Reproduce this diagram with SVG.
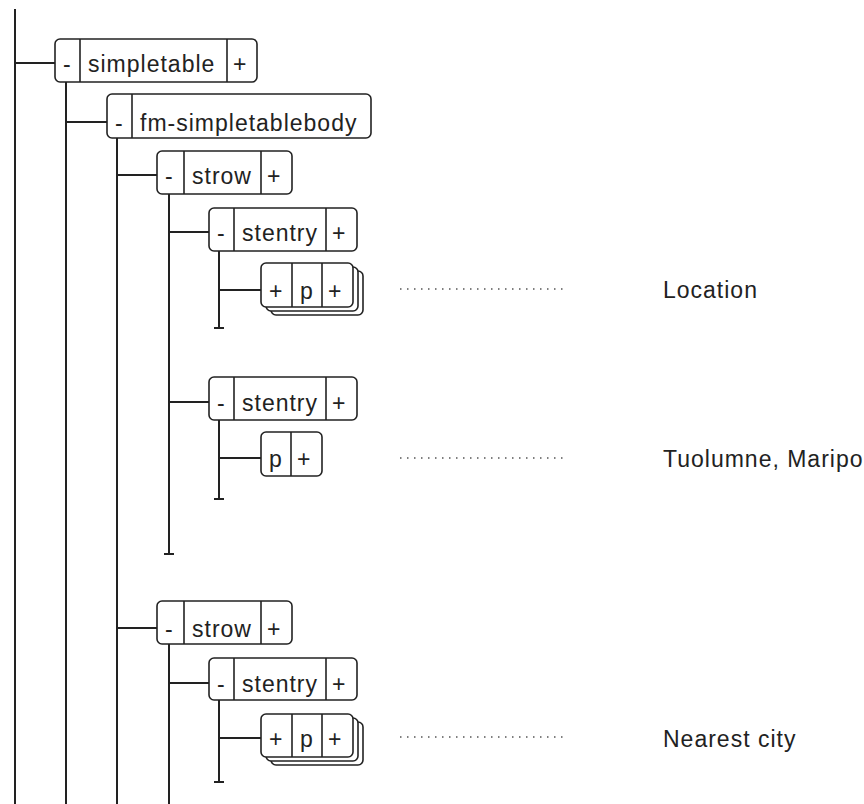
<svg xmlns="http://www.w3.org/2000/svg" width="864" height="804" viewBox="0 0 864 804">
<style>
.bx{fill:#fff;stroke:#222;stroke-width:1.6}
.dv{stroke:#222;stroke-width:1.6}
.ln{stroke:#222;stroke-width:2;fill:none}
.dt{stroke:#555;stroke-width:1.5;stroke-dasharray:1.5 5.5;fill:none}
text{font-family:"Liberation Sans",Arial,sans-serif;font-size:23px;letter-spacing:1px;fill:#222}
</style>
<rect width="864" height="804" fill="#fff"/>
<g id="connectors">
<path class="ln" d="M15 9V804M15 63H55"/>
<path class="ln" d="M66 82V804M66 122H107"/>
<path class="ln" d="M117 138V804M117 175H157M117 628H157"/>
<path class="ln" d="M169 194V554M164 554H174M169 232H209M169 402H209"/>
<path class="ln" d="M169 644V804M169 683H209"/>
<path class="ln" d="M219 251V328M214 328H224M219 290H261"/>
<path class="ln" d="M219 420V499M214 499H224M219 458H261"/>
<path class="ln" d="M219 700V782M214 782H224M219 738H261"/>
<path class="dt" d="M400 289H564M400 458H564M400 737H564"/>
</g>
<g id="simpletable">
<rect class="bx" x="55" y="39" width="202" height="43" rx="5"/>
<path class="dv" d="M80 39V82M227 39V82"/>
<text x="63" y="72">-</text><text x="88" y="72">simpletable</text><text x="233" y="72">+</text>
</g>
<g id="fm-simpletablebody">
<rect class="bx" x="107" y="94" width="264" height="44" rx="5"/>
<path class="dv" d="M132 94V138"/>
<text x="115" y="131">-</text><text x="140" y="131">fm-simpletablebody</text>
</g>
<g id="strow1">
<rect class="bx" x="157" y="151" width="135" height="43" rx="5"/>
<path class="dv" d="M184 151V194M261 151V194"/>
<text x="165" y="184">-</text><text x="192" y="184">strow</text><text x="267" y="184">+</text>
</g>
<g id="stentry1">
<rect class="bx" x="209" y="208" width="148" height="43" rx="5"/>
<path class="dv" d="M234 208V251M326 208V251"/>
<text x="217" y="241">-</text><text x="242" y="241">stentry</text><text x="332" y="241">+</text>
</g>
<g id="p1">
<rect class="bx" x="271" y="271" width="92" height="44" rx="5"/>
<rect class="bx" x="266" y="267" width="92" height="44" rx="5"/>
<rect class="bx" x="261" y="263" width="92" height="44" rx="5"/>
<path class="dv" d="M292 263V307M322 263V307"/>
<text x="269" y="299">+</text><text x="300" y="299">p</text><text x="328" y="299">+</text>
</g>
<g id="label-location"><text x="663" y="298">Location</text></g>
<g id="stentry2">
<rect class="bx" x="209" y="377" width="148" height="43" rx="5"/>
<path class="dv" d="M234 377V420M326 377V420"/>
<text x="217" y="411">-</text><text x="242" y="411">stentry</text><text x="332" y="411">+</text>
</g>
<g id="p2">
<rect class="bx" x="261" y="432" width="61" height="44" rx="5"/>
<path class="dv" d="M291 432V476"/>
<text x="269" y="467">p</text><text x="297" y="467">+</text>
</g>
<g id="label-tuolumne"><text x="663" y="467">Tuolumne, Maripo</text></g>
<g id="strow2">
<rect class="bx" x="157" y="601" width="135" height="43" rx="5"/>
<path class="dv" d="M184 601V644M261 601V644"/>
<text x="165" y="637">-</text><text x="192" y="637">strow</text><text x="267" y="637">+</text>
</g>
<g id="stentry3">
<rect class="bx" x="209" y="658" width="148" height="42" rx="5"/>
<path class="dv" d="M234 658V700M326 658V700"/>
<text x="217" y="692">-</text><text x="242" y="692">stentry</text><text x="332" y="692">+</text>
</g>
<g id="p3">
<rect class="bx" x="271" y="722" width="92" height="43" rx="5"/>
<rect class="bx" x="266" y="718" width="92" height="43" rx="5"/>
<rect class="bx" x="261" y="714" width="92" height="43" rx="5"/>
<path class="dv" d="M292 714V757M322 714V757"/>
<text x="269" y="747">+</text><text x="300" y="747">p</text><text x="328" y="747">+</text>
</g>
<g id="label-nearest"><text x="663" y="747">Nearest city</text></g>
</svg>
